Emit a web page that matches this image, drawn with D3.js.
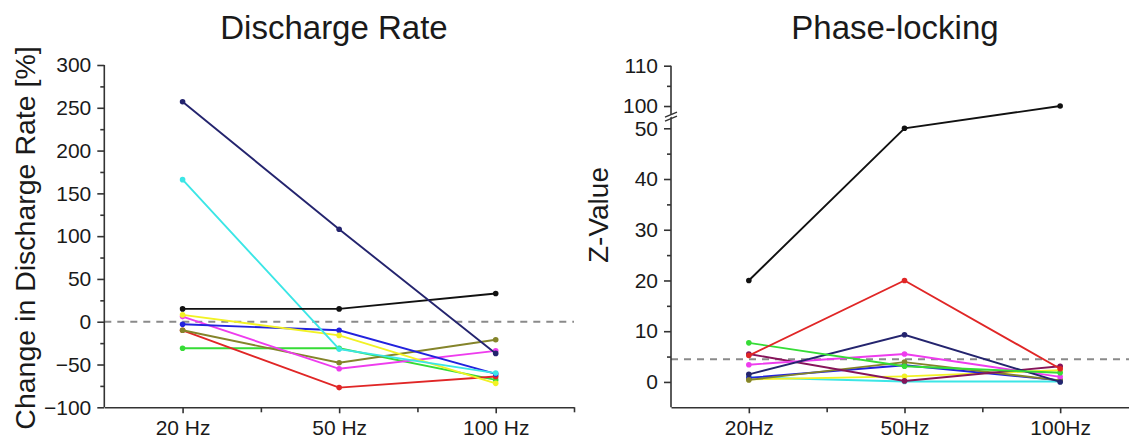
<!DOCTYPE html>
<html>
<head>
<meta charset="utf-8">
<script src="https://cdn.jsdelivr.net/npm/d3@7"></script>
<style>
	body { margin: 0; background: #fff; }
	svg { display: block; font-family: "Liberation Sans", Arial, sans-serif; }
	.axis path, .axis line { stroke: #333; stroke-width: 1.6; }
	.axis text { fill: #1a1a1a; font-size: 21px; }
</style>
</head>
<body>
<svg id="svg" width="1129" height="438"></svg>
<script>
// left panel: change in discharge rate [%]
var rateLabels = ['20 Hz', '50 Hz', '100 Hz'];
var rateTicks = [-100, -50, 0, 50, 100, 150, 200, 250, 300];
var rateMinorTicks = [-75, -25, 25, 75, 125, 175, 225, 275];
var rateNavy = [257, 108, -37];
var rateCyan = [166, -32, -60];
var rateBlack = [15, 15, 33];
var rateYellow = [8, -16, -72];
var rateBlue = [-3, -10, -61];
var rateMagenta = [6, -55, -34];
var rateOlive = [-10, -48, -21];
var rateRed = [-10, -77, -64];
var rateGreen = [-31, -31, -68];
var rateReference = 0;

// right panel: phase-locking z-values
var zLabels = ['20Hz', '50Hz', '100Hz'];
var zTicks = [0, 10, 20, 30, 40, 50, 100, 110];
var zMinorTicks = [5, 15, 25, 35, 45, 105];
var zBlack = [20, 50, 100];
var zRed = [5.2, 20, 2.6];
var zGreen = [7.7, 3.1, 1.8];
var zNavy = [1.5, 9.3, 0];
var zMagenta = [3.4, 5.5, 1.0];
var zPurple = [5.5, 0.2, 3.1];
var zOlive = [0.4, 3.9, 0.3];
var zBlue = [0.8, 3.3, 0.3];
var zYellow = [0.5, 1.1, 2.3];
var zCyan = [0.9, 0.1, 0.1];
var zReference = 4.47;

var COLORS = {
	navy: '#24246e', cyan: '#3ce6e6', black: '#111111', yellow: '#f2f224',
	blue: '#2222dd', magenta: '#ee3cee', olive: '#84842a', red: '#e02626',
	green: '#36dc36', purple: '#86145a'
};

var svg = d3.select('#svg');

function drawPanel(opts){
	var g = svg.append('g');
	var x = d3.scaleLinear().domain([0.5, 3.5]).range(opts.xRange);
	var y = opts.y;
	var baseY = opts.baseY;

	// dashed reference line
	g.append('line')
		.attr('x1', opts.xRange[0]).attr('x2', opts.dashEnd)
		.attr('y1', y(opts.reference)).attr('y2', y(opts.reference))
		.style('stroke', '#8a8a8a')
		.style('stroke-width', 2.2)
		.style('stroke-dasharray', '7,6');

	var line = d3.line()
		.x(function(d, i){ return x(i + 1); })
		.y(function(d){ return y(d); });

	opts.series.forEach(function(s){
		g.append('path')
			.datum(s.values)
			.attr('d', line)
			.style('fill', 'none')
			.style('stroke', s.color)
			.style('stroke-width', 1.9);
		g.selectAll(null)
			.data(s.values)
			.enter()
			.append('circle')
			.attr('cx', function(d, i){ return x(i + 1); })
			.attr('cy', function(d){ return y(d); })
			.attr('r', 2.8)
			.style('fill', s.color);
	});

	// x axis
	g.append('g')
		.attr('class', 'axis')
		.attr('transform', 'translate(0,' + baseY + ')')
		.call(d3.axisBottom(x).tickValues([1, 2, 3]).tickSize(6).tickPadding(7)
			.tickSizeOuter(0)
			.tickFormat(function(d){ return opts.labels[d - 1]; }));
	g.append('g')
		.attr('class', 'axis')
		.attr('transform', 'translate(0,' + baseY + ')')
		.call(d3.axisBottom(x).tickValues([1.5, 2.5, 3.5]).tickSize(5).tickFormat(''))
		.select('.domain').remove();

	// y axis
	var yAxis = g.append('g')
		.attr('class', 'axis')
		.attr('transform', 'translate(' + opts.xRange[0] + ',0)')
		.call(d3.axisLeft(y).tickValues(opts.ticks).tickSize(7).tickPadding(6).tickSizeOuter(0));
	yAxis.select('.domain').attr('d', 'M0,' + baseY + 'V' + y(opts.top));
	g.append('g')
		.attr('class', 'axis')
		.attr('transform', 'translate(' + opts.xRange[0] + ',0)')
		.call(d3.axisLeft(y).tickValues(opts.minorTicks).tickSize(4).tickFormat(''))
		.select('.domain').remove();

	g.append('text')
		.attr('x', opts.titleX).attr('y', 39)
		.attr('text-anchor', 'middle')
		.style('font-size', '33px')
		.style('fill', '#1a1a1a')
		.text(opts.title);

	g.append('text')
		.attr('transform', 'translate(' + opts.yTitleX + ',' + opts.yTitleY + ') rotate(-90)')
		.attr('text-anchor', 'middle')
		.style('font-size', opts.yTitleSize)
		.style('fill', '#1a1a1a')
		.text(opts.yTitle);

	return g;
}

var rateY = d3.scaleLinear().domain([-100, 300]).range([407.3, 65]);
drawPanel({
	xRange: [104.3, 574],
	dashEnd: 574,
	y: rateY,
	baseY: 407.3,
	top: 300,
	reference: rateReference,
	labels: rateLabels,
	ticks: rateTicks,
	minorTicks: rateMinorTicks,
	title: 'Discharge Rate',
	titleX: 334,
	yTitle: 'Change in Discharge Rate [%]',
	yTitleSize: '28.5px',
	yTitleX: 35,
	yTitleY: 238,
	series: [
		{values: rateGreen, color: COLORS.green},
		{values: rateRed, color: COLORS.red},
		{values: rateOlive, color: COLORS.olive},
		{values: rateMagenta, color: COLORS.magenta},
		{values: rateBlue, color: COLORS.blue},
		{values: rateYellow, color: COLORS.yellow},
		{values: rateCyan, color: COLORS.cyan},
		{values: rateBlack, color: COLORS.black},
		{values: rateNavy, color: COLORS.navy}
	]
});

// broken axis: -5..52.5 below the break, 97.5..110 above it
var zY = d3.scaleLinear()
	.domain([-5, 52.5, 97.5, 110])
	.range([407.3, 115.6, 116.1, 65.7]);
var phase = drawPanel({
	xRange: [671, 1138],
	dashEnd: 1129,
	y: zY,
	baseY: 407.3,
	top: 110,
	reference: zReference,
	labels: zLabels,
	ticks: zTicks,
	minorTicks: zMinorTicks,
	title: 'Phase-locking',
	titleX: 895,
	yTitle: 'Z-Value',
	yTitleSize: '28px',
	yTitleX: 608,
	yTitleY: 215,
	series: [
		{values: zCyan, color: COLORS.cyan},
		{values: zYellow, color: COLORS.yellow},
		{values: zBlue, color: COLORS.blue},
		{values: zOlive, color: COLORS.olive},
		{values: zPurple, color: COLORS.purple},
		{values: zMagenta, color: COLORS.magenta},
		{values: zNavy, color: COLORS.navy},
		{values: zGreen, color: COLORS.green},
		{values: zRed, color: COLORS.red},
		{values: zBlack, color: COLORS.black}
	]
});

// break marks on the z axis
var bx = 671, by = zY(52.5);
phase.append('polygon')
	.attr('points', [[bx - 6, by + 2], [bx + 6, by - 3], [bx + 6, by - 1], [bx - 6, by + 4]].join(' '))
	.style('fill', '#fff');
[-1.5, 2.5].forEach(function(off){
	phase.append('line')
		.attr('x1', bx - 6).attr('y1', by + off + 3)
		.attr('x2', bx + 6).attr('y2', by + off - 2)
		.style('stroke', '#333')
		.style('stroke-width', 1.4);
});
</script>
</body>
</html>
